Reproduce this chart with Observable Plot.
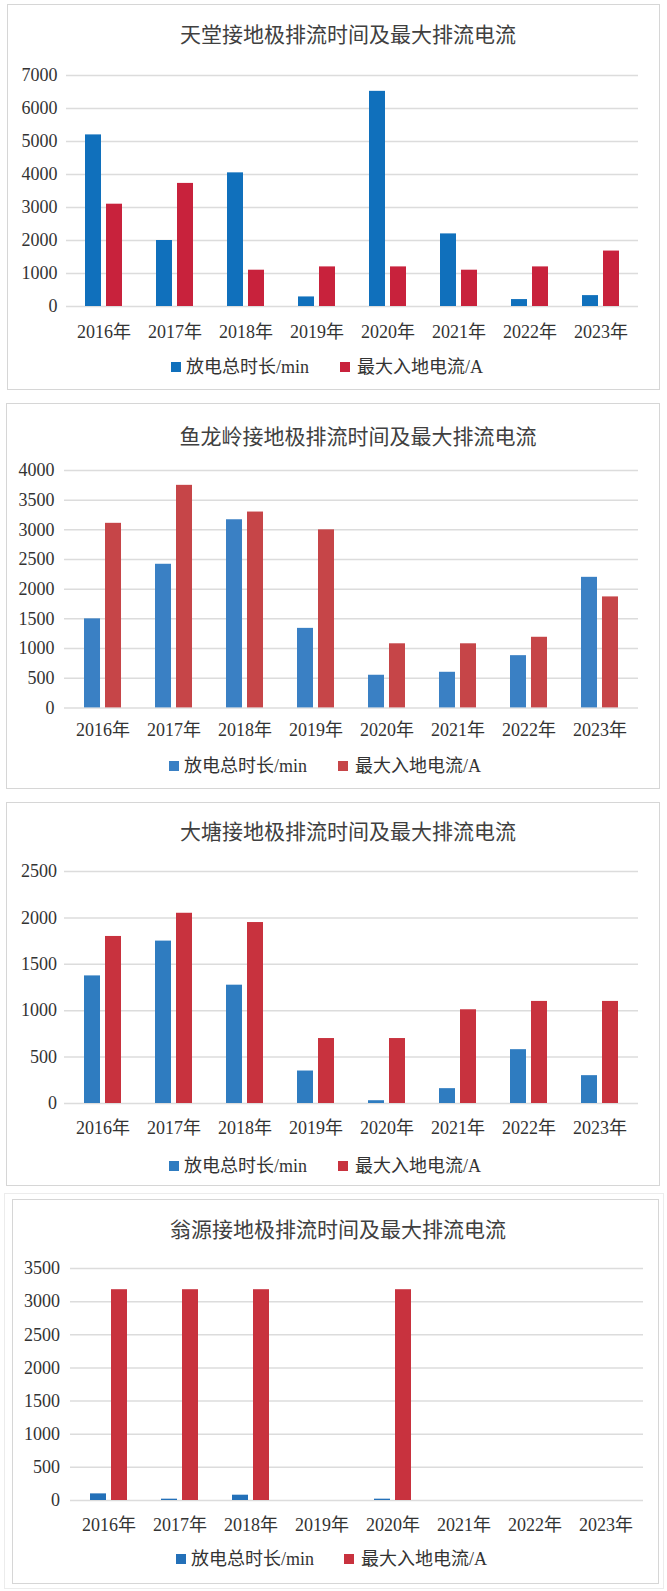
<!DOCTYPE html>
<html>
<head>
<meta charset="utf-8">
<script src="https://cdn.jsdelivr.net/npm/d3@7"></script>
<script src="https://cdn.jsdelivr.net/npm/@observablehq/plot@0.6"></script>
<style>
  html, body { margin: 0; padding: 0; background: #fff; }
  #page { position: relative; width: 667px; height: 1591px; overflow: hidden; background: #fff; }
  .box { position: absolute; border: 1px solid #d6d6d6; box-sizing: border-box; }
  .outer { position: absolute; border: 1px solid #ececec; box-sizing: border-box; }
  .title { position: absolute; width: 600px; text-align: center; font-family: "Liberation Serif", "Noto Sans CJK SC", serif; font-size: 21px; color: #404040; line-height: 24px; white-space: nowrap; }
  .chart { position: absolute; left: 0; }
  svg.chart, svg.chart text { font-family: "Liberation Serif", "Noto Sans CJK SC", serif !important; font-size: 18px !important; font-variant: normal !important; }
  .sw { position: absolute; width: 10px; height: 10px; }
  .lt { position: absolute; font-family: "Liberation Serif", "Noto Sans CJK SC", serif; font-size: 18px; color: #333; line-height: 20px; white-space: nowrap; }
</style>
</head>
<body>
<div id="page"></div>
<script>
// ---- data ----
const years = ["2016年", "2017年", "2018年", "2019年", "2020年", "2021年", "2022年", "2023年"];
const seriesNames = ["放电总时长/min", "最大入地电流/A"];

const tiantangDuration = [5200, 2000, 4050, 290, 6520, 2200, 210, 330];
const tiantangCurrent  = [3100, 3730, 1100, 1200, 1200, 1100, 1200, 1680];

const yulonglingDuration = [1500, 2420, 3170, 1340, 550, 600, 880, 2200];
const yulonglingCurrent  = [3110, 3750, 3300, 3000, 1080, 1080, 1190, 1870];

const datangDuration = [1375, 1750, 1275, 350, 30, 160, 580, 300];
const datangCurrent  = [1800, 2050, 1950, 700, 700, 1010, 1100, 1100];

const wengyuanDuration = [100, 20, 80, 0, 20, 0, 0, 0];
const wengyuanCurrent  = [3180, 3180, 3180, 0, 3180, 0, 0, 0];

const ticksTiantang   = [0, 1000, 2000, 3000, 4000, 5000, 6000, 7000];
const ticksYulongling = [0, 500, 1000, 1500, 2000, 2500, 3000, 3500, 4000];
const ticksDatang     = [0, 500, 1000, 1500, 2000, 2500];
const ticksWengyuan   = [0, 500, 1000, 1500, 2000, 2500, 3000, 3500];

const titles = [
  "天堂接地极排流时间及最大排流电流",
  "鱼龙岭接地极排流时间及最大排流电流",
  "大塘接地极排流时间及最大排流电流",
  "翁源接地极排流时间及最大排流电流"
];

// ---- layout / style (separate from data) ----
const panels = [
  { title: titles[0], duration: tiantangDuration, current: tiantangCurrent, ticks: ticksTiantang,
    blue: "#1070bc", red: "#c8223c", box: [7, 4, 660, 390], titleX: 348, titleY: 35,
    x0: 66, x1: 638, yTop: 74.5, yZero: 305.5, labelRight: 57, xPad: 19, legendY: 367, leg: [171, 340] },
  { title: titles[1], duration: yulonglingDuration, current: yulonglingCurrent, ticks: ticksYulongling,
    blue: "#3a80c4", red: "#c64548", box: [6, 403, 660, 789], titleX: 358, titleY: 437,
    x0: 64, x1: 638, yTop: 469.6, yZero: 707, labelRight: 54, xPad: 15, legendY: 766, leg: [169, 338] },
  { title: titles[2], duration: datangDuration, current: datangCurrent, ticks: ticksDatang,
    blue: "#2f7cc0", red: "#c8323e", box: [6, 802, 660, 1186], titleX: 348, titleY: 832,
    x0: 64, x1: 638, yTop: 871, yZero: 1103, labelRight: 56.5, xPad: 18, legendY: 1166, leg: [169, 338] },
  { title: titles[3], duration: wengyuanDuration, current: wengyuanCurrent, ticks: ticksWengyuan,
    blue: "#2370b8", red: "#c8323e", box: [12, 1199, 659, 1584], titleX: 338, titleY: 1230,
    x0: 70, x1: 643, yTop: 1268, yZero: 1500, labelRight: 59.5, xPad: 18, legendY: 1559, leg: [176, 344] }
];

const page = document.getElementById("page");

// faint outer frame around the last panel
const outer = document.createElement("div");
outer.className = "outer";
Object.assign(outer.style, { left: "4px", top: "1193px", width: "660px", height: "396px" });
page.appendChild(outer);

function el(cls, styles, text) {
  const d = document.createElement("div");
  d.className = cls;
  Object.assign(d.style, styles);
  if (text != null) d.textContent = text;
  page.appendChild(d);
  return d;
}

for (const p of panels) {
  const [bl, bt, br, bb] = p.box;
  el("box", { left: bl + "px", top: bt + "px", width: (br - bl) + "px", height: (bb - bt) + "px" });
  el("title", { left: (p.titleX - 300) + "px", top: (p.titleY - 12) + "px" }, p.title);

  const rows = years.map((year, i) => ({ year, duration: p.duration[i], current: p.current[i] }));
  const mTop = 20, mBottom = 45;
  const height = (p.yZero - p.yTop) + mTop + mBottom;

  const chart = Plot.plot({
    width: 667,
    height,
    marginTop: mTop,
    marginBottom: mBottom,
    marginLeft: p.x0,
    marginRight: 667 - p.x1,
    style: { fontFamily: "'Liberation Serif', 'Noto Sans CJK SC', serif", fontSize: "18px", color: "#333", background: "transparent" },
    x: { domain: years, paddingInner: 0.48, paddingOuter: 0.24, label: null, tickSize: 0, tickPadding: p.xPad },
    y: { domain: [0, d3.max(p.ticks)], ticks: p.ticks, tickSize: 0, tickPadding: p.x0 - p.labelRight, label: null, tickFormat: d => String(d) },
    marks: [
      Plot.ruleY(p.ticks, { stroke: "#dcdcdc", strokeWidth: 1.5 }),
      Plot.barY(rows, { x: "year", y: "duration", fill: p.blue, insetRight: 21 }),
      Plot.barY(rows, { x: "year", y: "current", fill: p.red, insetLeft: 21 })
    ]
  });
  chart.classList.add("chart");
  chart.style.position = "absolute";
  chart.style.left = "0px";
  chart.style.top = (p.yTop - mTop) + "px";
  page.appendChild(chart);

  // legend
  el("sw", { left: p.leg[0] + "px", top: (p.legendY - 5) + "px", background: p.blue });
  el("lt", { left: (p.leg[0] + 15) + "px", top: (p.legendY - 10) + "px" }, seriesNames[0]);
  el("sw", { left: p.leg[1] + "px", top: (p.legendY - 5) + "px", background: p.red });
  el("lt", { left: (p.leg[1] + 17) + "px", top: (p.legendY - 10) + "px" }, seriesNames[1]);
}
</script>
</body>
</html>
